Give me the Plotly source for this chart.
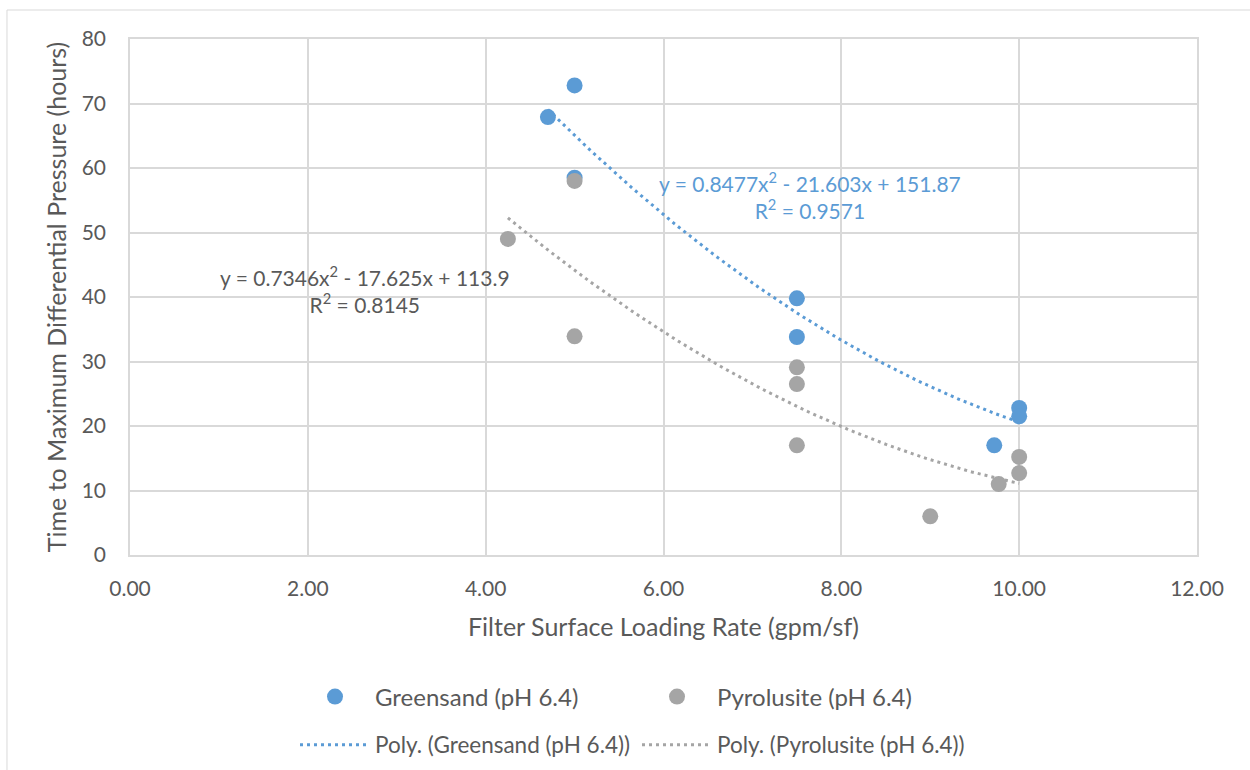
import numpy as np
import plotly.graph_objects as go

# Measured runs: filter loading rate (gpm/sf) vs. hours to max differential pressure
greensand_x = [4.7, 5.0, 5.0, 7.5, 7.5, 9.72, 10.0, 10.0]
greensand_y = [67.9, 72.8, 58.5, 39.8, 33.8, 17.0, 22.8, 21.5]

pyrolusite_x = [4.25, 5.0, 5.0, 7.5, 7.5, 7.5, 9.0, 9.77, 10.0, 10.0]
pyrolusite_y = [49.0, 58.0, 33.9, 29.1, 26.5, 17.0, 6.0, 11.0, 15.2, 12.7]

# Second-order polynomial trendline coefficients (a, b, c) and R²
greensand_fit = [0.8477, -21.603, 151.87]
greensand_r2 = 0.9571
pyrolusite_fit = [0.7346, -17.625, 113.9]
pyrolusite_r2 = 0.8145

x_ticks = [0, 2, 4, 6, 8, 10, 12]
y_ticks = [0, 10, 20, 30, 40, 50, 60, 70, 80]

BLUE = "#5B9BD5"
GRAY = "#A5A5A5"
TEXT = "#595959"
GRID = "#D9D9D9"
FONT = "Lato, 'Open Sans', sans-serif"


def trend(coefs, xs):
    xs = np.linspace(min(xs), max(xs), 120)
    a, b, c = coefs
    return xs, a * xs ** 2 + b * xs + c


def equation(coefs, r2):
    a, b, c = coefs
    sb = "-" if b < 0 else "+"
    sc = "-" if c < 0 else "+"
    return (f"y = {a}x<sup>2</sup> {sb} {abs(b)}x {sc} {abs(c)}"
            f"<br>R<sup>2</sup> = {r2}")


fig = go.Figure()

gx, gy = trend(greensand_fit, greensand_x)
px, py = trend(pyrolusite_fit, pyrolusite_x)

fig.add_trace(go.Scatter(
    x=gx, y=gy, mode="lines", name="Poly. (Greensand (pH 6.4))",
    line=dict(color=BLUE, width=3, dash="3px,4px"), legend="legend2"))
fig.add_trace(go.Scatter(
    x=px, y=py, mode="lines", name="Poly. (Pyrolusite (pH 6.4))",
    line=dict(color=GRAY, width=3, dash="3px,4px"), legend="legend2"))

fig.add_trace(go.Scatter(
    x=greensand_x, y=greensand_y, mode="markers", name="Greensand (pH 6.4)",
    marker=dict(color=BLUE, size=16), legend="legend"))
fig.add_trace(go.Scatter(
    x=pyrolusite_x, y=pyrolusite_y, mode="markers", name="Pyrolusite (pH 6.4)",
    marker=dict(color=GRAY, size=16), legend="legend"))

fig.add_annotation(x=7.65, y=55.8, xref="x", yref="y", showarrow=False,
                   text=equation(greensand_fit, greensand_r2), align="center",
                   font=dict(color=BLUE, size=21, family=FONT))
fig.add_annotation(x=2.64, y=41.2, xref="x", yref="y", showarrow=False,
                   text=equation(pyrolusite_fit, pyrolusite_r2), align="center",
                   font=dict(color=TEXT, size=21, family=FONT))

# outer chart frame
fig.add_shape(type="rect", xref="paper", yref="paper",
              x0=-0.1153, x1=1.3, y0=-0.6, y1=1.0562,
              line=dict(color=GRID, width=1), layer="below")

axis_common = dict(showgrid=True, gridcolor=GRID, gridwidth=1.5,
                   showline=True, linecolor=GRID, linewidth=1.5, mirror=True,
                   zeroline=False, ticks="", automargin=False,
                   tickfont=dict(color=TEXT, size=21, family=FONT))

fig.update_xaxes(range=[0, 12], tickvals=x_ticks, tickformat=".2f",
                 title=dict(text="Filter Surface Loading Rate (gpm/sf)",
                            font=dict(color=TEXT, size=25, family=FONT),
                            standoff=20),
                 ticklabelstandoff=14, **axis_common)
fig.update_yaxes(range=[0, 80], tickvals=y_ticks,
                 title=dict(text="Time to Maximum Differential Pressure (hours)",
                            font=dict(color=TEXT, size=25, family=FONT),
                            standoff=8),
                 ticklabelstandoff=18, **axis_common)

legend_common = dict(orientation="h", xanchor="left", yanchor="middle",
                     xref="container", yref="container",
                     bgcolor="rgba(0,0,0,0)", itemwidth=70,
                     entrywidth=257, itemclick=False, traceorder="normal")

fig.update_layout(
    width=1250, height=770,
    margin=dict(l=130, r=53, t=39, b=215, autoexpand=False),
    paper_bgcolor="white", plot_bgcolor="white",
    font=dict(family=FONT, color=TEXT),
    showlegend=True,
    legend=dict(x=295 / 1250, y=1 - 697 / 770,
                font=dict(color=TEXT, size=24, family=FONT), **legend_common),
    legend2=dict(x=295 / 1250, y=1 - 745 / 770,
                 font=dict(color=TEXT, size=22.5, family=FONT), **legend_common),
)

fig.write_html("out.html")
